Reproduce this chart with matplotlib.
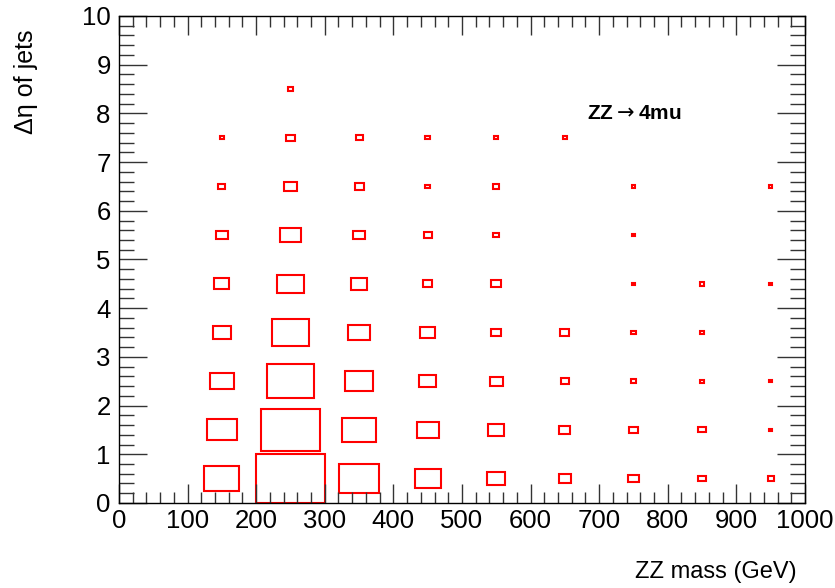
import numpy as np
import matplotlib
matplotlib.use("Agg")
import matplotlib.pyplot as plt
from matplotlib.patches import Rectangle
from matplotlib.ticker import MultipleLocator

plt.rcParams['font.family'] = ['Liberation Sans', 'DejaVu Sans']

# bin edges
x_edges = np.arange(0, 1001, 100)   # ZZ mass (GeV)
y_edges = np.arange(0, 11, 1)       # delta eta of jets

# bin contents, rows = delta eta bins (0-1 ... 9-10), columns = mass bins (0-100 ... 900-1000)
counts = [
    [0, 104, 400, 135, 58, 27, 13.7, 9.0, 4.4, 3.2],
    [0, 74, 296, 100, 41, 21, 10.2, 6.8, 4.4, 1.0],
    [0, 46, 193, 67, 23, 14.4, 5.8, 2.6, 2.0, 1.0],
    [0, 29, 117, 38, 17.6, 7.8, 6.8, 2.6, 2.0, 0],
    [0, 19.4, 58, 23, 7.8, 7.8, 0, 0.8, 2.0, 1.0],
    [0, 10.9, 36, 10.9, 5.8, 3.2, 0, 1.0, 0, 0],
    [0, 4.0, 16, 6.8, 2.0, 3.2, 0, 1.0, 0, 1.0],
    [0, 1.4, 6.8, 4.0, 2.0, 1.4, 1.2, 0, 0, 0],
    [0, 0, 2.0, 0, 0, 0, 0, 0, 0, 0],
    [0, 0, 0, 0, 0, 0, 0, 0, 0, 0],
]
counts = np.array(counts, dtype=float)

fig = plt.figure(figsize=(8.35, 5.88), dpi=100)
ax = fig.add_axes([0.1425, 0.1446, 0.8215, 0.8282])

# ROOT "BOX" style: box side proportional to sqrt(content / max)
zmax = counts.max()
for j in range(len(y_edges) - 1):
    for i in range(len(x_edges) - 1):
        z = counts[j, i]
        if z <= 0:
            continue
        r = np.sqrt(z / zmax)
        dx = (x_edges[i + 1] - x_edges[i]) * r
        dy = (y_edges[j + 1] - y_edges[j]) * r
        xc = 0.5 * (x_edges[i] + x_edges[i + 1])
        yc = 0.5 * (y_edges[j] + y_edges[j + 1])
        ax.add_patch(Rectangle((xc - dx / 2, yc - dy / 2), dx, dy,
                               facecolor='none', edgecolor='#ff0000', lw=1.5))

ax.set_xlim(0, 1000)
ax.set_ylim(0, 10)
ax.xaxis.set_major_locator(MultipleLocator(100))
ax.xaxis.set_minor_locator(MultipleLocator(20))
ax.yaxis.set_major_locator(MultipleLocator(1))
ax.yaxis.set_minor_locator(MultipleLocator(0.2))
ax.tick_params(which='both', direction='in', top=True, right=True, width=1, color='#333333')
ax.tick_params(axis='x', which='major', length=14)
ax.tick_params(axis='x', which='minor', length=8)
ax.tick_params(axis='y', which='major', length=20)
ax.tick_params(axis='y', which='minor', length=11)
ax.tick_params(axis='x', labelsize=18.5, pad=4)
ax.tick_params(axis='y', labelsize=18.5, pad=6)
for s in ax.spines.values():
    s.set_linewidth(1)

fig.text(797 / 835, 1 - 572 / 588, 'ZZ mass (GeV)', ha='right', va='center', fontsize=17)
fig.text(26 / 835, 1 - 30 / 588, u'\u0394\u03b7 of jets', rotation=90, ha='center', va='top', fontsize=18)
ax.text(682, 8.0, r'ZZ$\rightarrow$4mu', fontsize=15, fontweight='bold',
        va='center', ha='left')

fig.savefig('out.png', dpi=100)
